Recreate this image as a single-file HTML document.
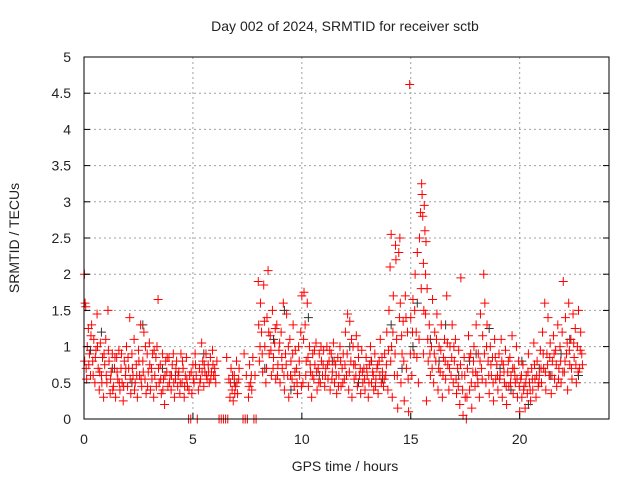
<!DOCTYPE html>
<html><head><meta charset="utf-8"><style>
body{margin:0;background:#fff}
svg text{font-family:"Liberation Sans",sans-serif;font-size:14px;fill:#222}
</style></head><body>
<svg id="chart" width="640" height="480" xmlns="http://www.w3.org/2000/svg">
<text x="345" y="31" text-anchor="middle">Day 002 of 2024, SRMTID for receiver sctb</text>
<text x="345" y="471" text-anchor="middle">GPS time / hours</text>
<text transform="translate(19,238) rotate(-90)" text-anchor="middle">SRMTID / TECUs</text>
<g id="grid"></g><g id="marks"></g><g id="axes"></g>
</svg>
<script>
const xTicks=[0,5,10,15,20];
const yTicks=[0,0.5,1,1.5,2,2.5,3,3.5,4,4.5,5];
const yTickLabels=["0","0.5","1","1.5","2","2.5","3","3.5","4","4.5","5"];
const redPoints=[
[0.02,2.0],[0.05,1.6],[0.08,1.55],[0.03,0.8],[0.1,0.7],[0.15,1.0],[0.2,1.25],[0.25,0.9],[0.3,0.6],[0.35,1.3],[0.4,0.8],[0.45,1.1],[0.5,0.5],[0.55,0.95],[0.6,1.45],[0.65,0.7],[0.7,0.4],[0.75,1.05],[0.8,0.6],[0.85,0.85],[0.9,0.3],[0.95,0.75],
[1.0,1.1],[1.05,0.5],[1.1,1.5],[1.15,0.8],[1.2,0.35],[1.25,0.65],[1.3,0.9],[1.35,0.45],[1.4,0.7],[1.45,0.3],[1.5,0.85],[1.55,0.55],[1.6,0.95],[1.65,0.4],[1.7,0.7],[1.75,0.5],[1.8,0.25],[1.85,0.8],[1.9,0.6],[1.95,1.0],
[2.0,0.45],[2.05,0.7],[2.1,1.4],[2.15,0.35],[2.2,0.9],[2.25,0.6],[2.3,1.1],[2.35,0.5],[2.4,0.75],[2.45,0.3],[2.5,0.95],[2.55,0.6],[2.6,1.3],[2.65,0.45],[2.7,0.8],[2.75,1.2],[2.8,0.55],[2.85,0.35],[2.9,0.9],[2.95,0.65],
[3.0,1.05],[3.05,0.4],[3.1,0.7],[3.15,0.9],[3.2,0.3],[3.25,0.6],[3.3,0.85],[3.35,1.0],[3.4,1.65],[3.45,0.5],[3.5,0.75],[3.55,0.35],[3.6,0.9],[3.65,0.55],[3.7,0.2],[3.75,0.8],[3.8,0.65],[3.85,0.45],[3.9,0.85],[3.95,0.6],
[4.0,0.4],[4.05,0.75],[4.1,0.9],[4.15,0.3],[4.2,0.55],[4.25,0.8],[4.3,0.45],[4.35,0.65],[4.4,0.35],[4.45,0.9],[4.5,0.5],[4.55,0.7],[4.6,0.3],[4.65,0.6],[4.7,0.85],[4.75,0.45],[4.8,0.0],[4.9,0.0],[4.85,0.6],[4.95,0.35],
[5.0,0.75],[5.05,0.5],[5.1,0.9],[5.2,0.0],[5.15,0.6],[5.25,0.4],[5.3,0.7],[5.35,0.55],[5.4,1.05],[5.45,0.8],[5.5,0.45],[5.55,0.65],[5.6,0.9],[5.65,0.55],[5.7,0.75],[5.75,0.5],[5.8,0.85],[5.85,0.65],[5.9,0.95],[5.95,0.6],
[6.0,0.7],[6.05,0.5],[6.1,0.8],[6.2,0.0],[6.3,0.0],[6.4,0.0],[6.5,0.0],[6.6,0.0],[6.55,0.85],[6.65,0.55],[6.7,0.3],[6.75,0.7],[6.8,0.4],[6.85,0.25],[6.9,0.6],[6.95,0.45],[7.0,0.8],[7.05,0.35],[7.1,0.55],
[7.3,0.0],[7.4,0.0],[7.5,0.0],[7.35,0.9],[7.45,0.6],[7.55,0.3],[7.6,0.75],[7.65,0.5],[7.7,0.4],[7.75,0.85],[7.8,0.0],[7.9,0.0],[7.85,0.6],
[8.0,1.9],[8.02,1.3],[8.05,0.8],[8.1,1.6],[8.15,1.2],[8.2,0.65],[8.25,1.85],[8.3,1.0],[8.35,0.5],[8.4,1.4],[8.45,2.05],[8.5,0.9],[8.55,1.15],[8.6,0.6],[8.65,1.5],[8.7,0.85],[8.75,1.05],[8.8,0.55],[8.85,1.3],[8.9,0.75],[8.95,0.95],
[9.0,0.5],[9.05,1.2],[9.1,0.7],[9.15,1.6],[9.2,0.4],[9.25,0.9],[9.3,1.45],[9.35,0.6],[9.4,0.3],[9.45,1.1],[9.5,0.8],[9.55,0.55],[9.6,1.3],[9.65,0.45],[9.7,0.95],[9.75,0.7],[9.8,0.35],[9.85,1.0],[9.9,0.6],[9.95,1.2],
[10.0,1.7],[10.05,0.5],[10.1,1.75],[10.15,1.3],[10.2,0.8],[10.25,1.6],[10.3,0.45],[10.35,1.0],[10.4,0.65],[10.45,0.3],[10.5,0.9],[10.55,0.55],[10.6,0.75],[10.65,1.05],[10.7,0.4],[10.75,0.7],[10.8,0.9],[10.85,0.5],[10.9,0.8],[10.95,0.6],
[11.0,0.95],[11.05,0.45],[11.1,0.7],[11.15,1.0],[11.2,0.55],[11.25,0.8],[11.3,0.4],[11.35,0.9],[11.4,0.65],[11.45,1.05],[11.5,0.5],[11.55,0.75],[11.6,0.35],[11.65,0.85],[11.7,0.6],[11.75,1.0],[11.8,0.45],[11.85,0.7],[11.9,0.9],[11.95,0.55],
[12.0,1.2],[12.05,0.6],[12.1,1.45],[12.15,0.4],[12.2,1.35],[12.25,0.8],[12.3,0.3],[12.35,1.0],[12.4,0.55],[12.45,0.75],[12.5,1.15],[12.55,0.45],[12.6,0.85],[12.65,0.6],[12.7,0.35],[12.75,0.95],[12.8,0.5],[12.85,0.7],[12.9,0.4],[12.95,0.85],
[13.0,0.6],[13.05,0.3],[13.1,0.75],[13.15,1.0],[13.2,0.5],[13.25,0.65],[13.3,0.4],[13.35,0.9],[13.4,0.55],[13.45,0.7],[13.5,0.35],[13.55,0.8],[13.6,1.1],[13.65,0.5],[13.7,0.65],[13.75,0.45],[13.8,0.9],[13.85,0.6],[13.9,1.2],[13.95,0.4],
[14.0,1.5],[14.05,2.1],[14.1,2.55],[14.12,1.0],[14.15,0.3],[14.2,1.7],[14.25,0.6],[14.3,2.4],[14.32,2.2],[14.35,1.1],[14.4,0.15],[14.45,2.3],[14.5,2.5],[14.52,1.6],[14.55,0.5],[14.6,0.9],[14.65,1.35],[14.7,0.25],[14.75,1.7],[14.8,0.7],[14.85,1.2],[14.9,0.1],[14.95,4.62],[15.0,1.4],
[15.05,0.6],[15.1,1.65],[15.15,0.9],[15.2,2.0],[15.25,1.2],[15.3,2.3],[15.35,0.5],[15.4,2.5],[15.45,2.85],[15.5,3.25],[15.52,3.1],[15.55,2.8],[15.58,2.15],[15.6,1.5],[15.62,2.95],[15.65,2.6],[15.68,2.0],[15.7,2.45],[15.72,0.25],[15.75,1.8],[15.8,0.8],[15.85,1.3],[15.9,0.6],[15.95,1.0],
[16.0,1.65],[16.05,0.5],[16.1,1.2],[16.15,0.8],[16.2,1.45],[16.25,0.4],[16.3,1.0],[16.35,0.65],[16.4,1.3],[16.45,0.3],[16.5,0.85],[16.55,1.1],[16.6,0.55],[16.65,1.7],[16.7,0.75],[16.75,0.4],[16.8,1.0],[16.85,0.6],[16.9,1.3],[16.95,0.5],
[17.0,0.8],[17.05,1.1],[17.1,0.35],[17.15,0.7],[17.2,0.95],[17.25,0.2],[17.3,1.95],[17.35,0.6],[17.4,0.05],[17.45,0.85],[17.5,0.3],[17.55,0.0],[17.6,0.7],[17.65,1.15],[17.7,0.4],[17.75,0.9],[17.8,0.15],[17.85,0.65],[17.9,1.0],[17.95,0.45],
[18.0,1.3],[18.05,0.6],[18.1,0.9],[18.15,0.3],[18.2,1.45],[18.25,0.7],[18.3,1.15],[18.35,2.0],[18.4,1.6],[18.45,0.5],[18.5,1.3],[18.55,0.8],[18.6,0.35],[18.65,1.0],[18.7,0.6],[18.75,0.85],[18.8,0.25],[18.85,1.1],[18.9,0.55],[18.95,0.75],
[19.0,0.4],[19.05,0.9],[19.1,0.6],[19.15,1.1],[19.2,0.3],[19.25,0.75],[19.3,0.5],[19.35,0.95],[19.4,0.2],[19.45,0.65],[19.5,0.45],[19.55,0.85],[19.6,0.6],[19.65,1.15],[19.7,0.35],[19.75,0.7],[19.8,0.5],[19.85,1.0],[19.9,0.3],[19.95,0.8],
[20.0,0.1],[20.05,0.55],[20.1,0.3],[20.15,0.75],[20.2,0.45],[20.25,0.15],[20.3,0.6],[20.35,0.35],[20.4,0.9],[20.45,0.5],[20.5,0.25],[20.55,0.7],[20.6,0.4],[20.65,1.05],[20.7,0.55],[20.75,0.3],[20.8,0.8],[20.85,0.45],[20.9,0.6],[20.95,0.95],
[21.0,0.5],[21.05,1.2],[21.1,0.7],[21.15,1.6],[21.2,0.4],[21.25,0.9],[21.3,1.4],[21.35,0.6],[21.4,1.05],[21.45,0.35],[21.5,0.8],[21.55,1.15],[21.6,0.55],[21.65,0.95],[21.7,0.45],[21.75,1.3],[21.8,0.7],[21.85,1.0],[21.9,0.5],[21.95,1.2],
[22.0,1.9],[22.05,0.65],[22.1,1.4],[22.15,0.9],[22.2,0.4],[22.25,1.6],[22.3,0.75],[22.35,1.1],[22.4,0.55],[22.45,1.45],[22.5,0.85],[22.55,1.25],[22.6,0.5],[22.65,1.0],[22.7,1.5],[22.75,0.7],[22.8,1.2],[22.85,0.9]
];
const redPointsExtra=[
[0.12,0.55],[0.22,0.75],[0.32,1.15],[0.42,0.6],[0.52,0.85],[0.62,1.0],[0.72,0.65],[0.82,0.5],[0.92,0.9],[1.02,0.6],[1.12,0.95],[1.22,0.55],[1.32,0.4],[1.42,0.85],[1.52,0.65],[1.62,0.5],[1.72,0.9],[1.82,0.45],[1.92,0.7],
[2.02,0.85],[2.12,0.55],[2.22,0.7],[2.32,0.4],[2.42,0.6],[2.52,0.8],[2.62,0.55],[2.72,0.65],[2.82,1.0],[2.92,0.45],[3.02,0.75],[3.12,0.55],[3.22,0.95],[3.32,0.45],[3.42,0.7],[3.52,0.55],[3.62,0.4],[3.72,0.6],[3.82,0.85],[3.92,0.5],
[4.02,0.6],[4.12,0.5],[4.22,0.7],[4.32,0.6],[4.42,0.5],[4.52,0.8],[4.62,0.45],[4.72,0.55],[4.82,0.4],[4.92,0.65],[5.02,0.55],[5.12,0.75],[5.32,0.5],[5.42,0.65],[5.52,0.75],[5.62,0.6],[5.72,0.65],[5.82,0.55],[5.92,0.75],[6.02,0.6],
[6.72,0.5],[6.82,0.6],[6.92,0.35],[7.02,0.5],[7.12,0.7],[7.58,0.45],[7.68,0.6],[8.08,1.0],[8.18,0.9],[8.28,1.35],[8.38,0.7],[8.48,1.2],[8.58,0.95],[8.68,0.7],[8.78,1.25],[8.88,0.6],[8.98,1.05],
[9.08,0.85],[9.18,0.6],[9.28,0.75],[9.38,1.0],[9.48,0.6],[9.58,0.9],[9.68,0.65],[9.78,0.5],[9.88,0.8],[9.98,0.45],[10.08,1.1],[10.18,0.6],[10.28,0.85],[10.38,0.75],[10.48,0.6],[10.58,0.95],[10.68,0.65],[10.78,0.5],[10.88,1.0],[10.98,0.75],
[11.08,0.6],[11.18,0.75],[11.28,0.95],[11.38,0.55],[11.48,0.8],[11.58,0.6],[11.68,0.45],[11.78,0.8],[11.88,0.5],[11.98,0.75],[12.08,0.9],[12.18,0.65],[12.28,1.1],[12.38,0.75],[12.48,0.6],[12.58,1.0],[12.68,0.7],[12.78,0.65],[12.88,0.55],[12.98,0.7],
[13.08,0.5],[13.18,0.8],[13.28,0.6],[13.38,0.45],[13.48,0.75],[13.58,0.6],[13.68,0.85],[13.78,0.55],[13.88,0.75],[13.98,0.95],[14.08,0.8],[14.18,1.2],[14.28,0.9],[14.38,0.6],[14.48,1.4],[14.58,1.15],[14.68,0.8],[14.78,1.4],[14.88,0.55],[14.98,0.9],
[15.08,1.2],[15.18,1.5],[15.28,0.85],[15.38,1.1],[15.48,1.8],[15.58,0.9],[15.68,1.45],[15.78,1.1],[15.88,0.9],[15.98,0.7],[16.08,0.9],[16.18,1.1],[16.28,0.7],[16.38,0.95],[16.48,0.6],[16.58,0.8],[16.68,1.05],[16.78,0.7],[16.88,0.85],[16.98,1.0],
[17.08,0.55],[17.18,0.45],[17.28,0.75],[17.38,0.4],[17.48,0.6],[17.58,0.3],[17.68,0.85],[17.78,0.5],[17.88,0.8],[17.98,0.65],[18.08,0.5],[18.18,0.8],[18.28,0.55],[18.38,0.9],[18.48,1.0],[18.58,0.6],[18.68,0.75],[18.78,0.5],[18.88,0.85],[18.98,0.6],
[19.08,0.55],[19.18,0.8],[19.28,0.65],[19.38,0.45],[19.48,0.8],[19.58,0.5],[19.68,0.7],[19.78,0.6],[19.88,0.55],[19.98,0.45],[20.08,0.6],[20.18,0.4],[20.28,0.5],[20.38,0.65],[20.48,0.4],[20.58,0.55],[20.68,0.75],[20.78,0.6],[20.88,0.5],[20.98,0.7],
[21.08,0.9],[21.18,0.65],[21.28,0.75],[21.38,0.85],[21.48,0.6],[21.58,0.9],[21.68,0.75],[21.78,0.55],[21.88,0.8],[21.98,0.65],[22.08,0.8],[22.18,1.05],[22.28,0.95],[22.38,0.7],[22.48,1.05],[22.58,0.75],[22.68,0.65],[22.78,0.95],[22.88,0.75]
];
const darkPoints=[
[0.3,0.95],[0.8,1.2],[1.3,0.7],[2.2,0.5],[2.7,1.3],[3.6,0.7],[4.2,0.6],[5.5,0.9],[6.9,0.5],[8.3,0.7],[8.7,1.1],[9.2,1.5],[9.5,0.4],[10.3,1.4],[10.8,0.6],[11.4,0.8],[12.2,1.0],[12.6,0.5],[13.2,0.8],[13.7,0.55],
[14.1,1.3],[14.6,0.7],[15.1,1.0],[15.3,1.6],[15.9,1.1],[16.3,0.8],[16.6,1.3],[17.2,0.6],[17.7,0.8],[18.0,0.9],[18.6,1.25],[19.1,0.7],[19.6,0.4],[20.1,0.8],[20.4,0.2],[20.9,0.7],[21.4,0.6],[21.9,0.9],[22.3,1.1],[22.7,0.6]
];
const X0=84,X1=609,Y0=419,Y1=57,XMAX=24.1,YMAX=5;
const xs=v=>X0+(X1-X0)*v/XMAX, ys=v=>Y0-(Y0-Y1)*v/YMAX;
const NS="http://www.w3.org/2000/svg";
const grid=document.getElementById('grid'),marks=document.getElementById('marks'),axes=document.getElementById('axes');
function mk(t,a,p){const e=document.createElementNS(NS,t);for(const k in a)e.setAttribute(k,a[k]);p.appendChild(e);return e;}
yTicks.forEach((v,i)=>{const y=ys(v);
 if(v>0&&v<YMAX){const g=mk('line',{x1:X0,x2:X1,y1:y,y2:y,stroke:'#a0a0a0','stroke-dasharray':'2,3'},grid);
 
 }
 const t=mk('line',{x1:X0,x2:X0+6,y1:y,y2:y,stroke:'#000'},axes);
 
 
 const t2=mk('line',{x1:X1,x2:X1-6,y1:y,y2:y,stroke:'#000'},axes);
 
 
 const l=mk('text',{x:X0-13,y:y+5,'text-anchor':'end'},axes);l.textContent=yTickLabels[i];
 
 
});
xTicks.forEach(v=>{const x=xs(v);
 if(v>0){const g=mk('line',{x1:x,x2:x,y1:Y0,y2:Y1,stroke:'#a0a0a0','stroke-dasharray':'2,3'},grid);
 
 }
 const t=mk('line',{x1:x,x2:x,y1:Y0,y2:Y0-6,stroke:'#000'},axes);
 
 
 const l=mk('text',{x:x,y:Y0+25,'text-anchor':'middle'},axes);l.textContent=String(v);
 
 
});
const frame=mk('rect',{x:X0,y:Y1,width:X1-X0,height:Y0-Y1,fill:'none',stroke:'#000'},axes);


function plus(pts,color,name){let d='';pts.forEach(p=>{const x=xs(p[0]),y=ys(p[1]);d+=`M${x-4.5},${y}h9M${x},${y-4.5}v9`;});
 const e=mk('path',{d:d,stroke:color,'stroke-width':1,fill:'none'},marks);
 
 }
plus(darkPoints,'#333','dark-series-points');
plus(redPoints,'#ff0000','srmtid-points');
plus(redPointsExtra,'#ff0000','srmtid-points-extra');
</script>
</body></html>
